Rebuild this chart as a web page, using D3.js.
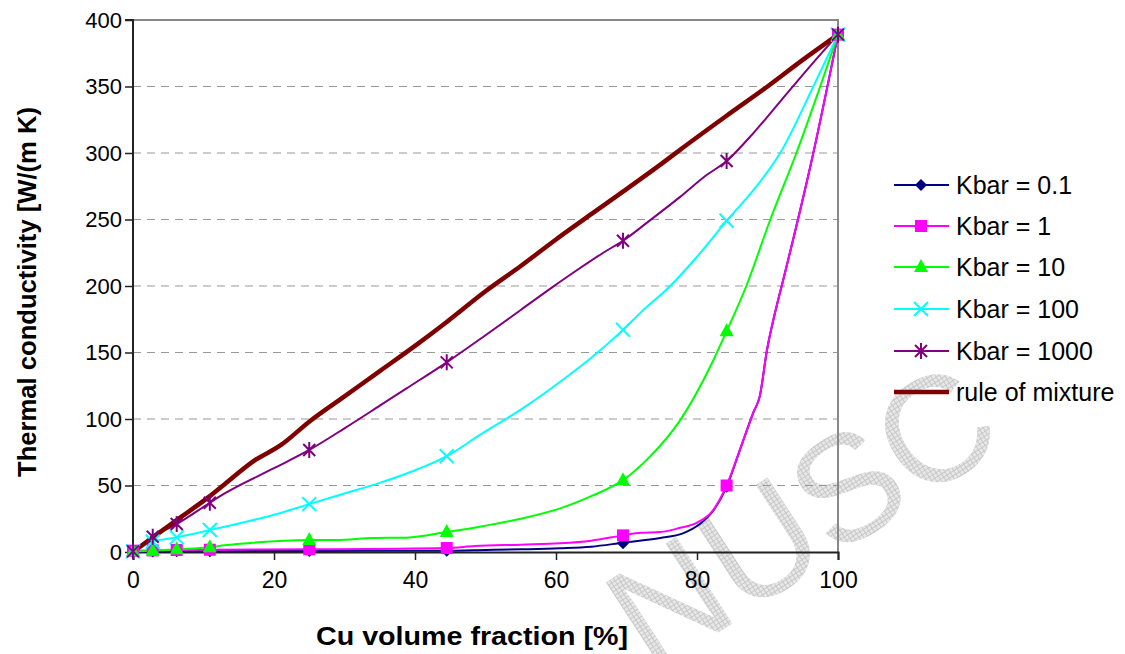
<!DOCTYPE html>
<html><head><meta charset="utf-8">
<script src="https://cdn.jsdelivr.net/npm/d3@7"></script>
<style>body{margin:0;background:#fff}svg{display:block;font-family:Arial,"Liberation Sans",sans-serif}</style>
</head><body><svg id="c" width="1125" height="654"></svg>
<script>
// ---- data ----
const xTicks = [0, 20, 40, 60, 80, 100];
const yTicks = [0, 50, 100, 150, 200, 250, 300, 350, 400];
const seriesNames = ["Kbar = 0.1", "Kbar = 1", "Kbar = 10", "Kbar = 100", "Kbar = 1000", "rule of mixture"];
const markerX = [0, 2.8, 6.2, 10.9, 25, 44.5, 69.5, 84.2, 100];
const mk01   = [0, 0.3, 0.5, 0.6, 0.8, 1, 6.5, 49, 389];
const mk1    = [1, 1.2, 1.5, 1.7, 2, 3, 12.5, 50, 389];
const mk10   = [0.5, 1, 2, 3.5, 9, 15, 54, 166, 389];
const mk100  = [0.5, 7.8, 11, 16.5, 36, 72, 167, 249, 389];
const mk1000 = [0.5, 11.5, 21, 37, 76.7, 142.6, 234, 294, 389];
// curves (x, y)
const line01 = [[0,0],[2.8,0.3],[6.2,0.5],[10.9,0.6],[25,0.8],[44.5,1],[50,1.5],[55,2],[60.6,2.8],[65,4],[69.5,7],[74.8,10.5],[78,14],[80.4,21],[82.3,31],[84.2,49],[86.1,77],[88,105],[88.9,117],[89.9,151],[91.3,185],[92.2,204],[96.5,300],[100,389]];
const line1 = [[0,1],[2.8,1.2],[6.2,1.5],[10.9,1.7],[25,2],[44.5,3],[48.5,4.5],[55,5.5],[60.6,6.5],[65,8.5],[69.5,12.5],[72,14.5],[74.8,15],[77.5,18],[80,22],[82.3,31.5],[84.2,50],[86.1,77],[88,105],[88.9,117],[89.9,151],[91.3,185],[92.2,204],[96.5,300],[100,389]];
const line10 = [[0,0.5],[2.8,1],[6.2,2],[10.9,3.5],[13,5],[17,7],[25,9],[28.9,9],[34,10.5],[38.8,10.8],[44.5,15],[49.2,19],[55,25],[60.6,32.8],[65,42],[69.5,54],[73,70],[77.6,99],[82.3,144],[84.2,166],[87,200],[90.4,250],[94.1,300],[100,389]];
const line100 = [[0,0.5],[2.8,7.8],[6.2,11],[10.9,16.5],[13,19],[20,28],[25,36],[30,44],[35,52],[38.8,59],[44.5,72],[49.2,88],[55,107],[60.6,128],[65,146],[69.5,167],[72,180],[76.2,200],[80,222],[84.2,249],[88,272],[91.8,300],[96.5,350],[100,389]];
const line1000 = [[0,0.5],[2.8,11.5],[6.2,21],[10.9,37],[13,44],[20,63],[25,76.7],[30,93],[35,110],[38.8,123],[44.5,142.6],[50,163],[55,182],[59.6,199.5],[63,212],[66.7,225],[69.5,234],[73,248],[77.6,267],[81,282],[84.2,294],[88,315],[92,340],[96,365],[100,389]];
const lineRule = [[0,0],[2.8,11],[6.2,24],[10.9,42],[13,51],[17,68],[21,80.5],[25,98],[30,117],[35,136],[40,155],[44.5,173],[50,196],[55,215],[60,235],[65,254],[69.5,271],[75,292],[77.5,302],[84.2,328],[90,350],[95,370],[100,389]];

const colors = ["#000080", "#FF00FF", "#00FF00", "#00FFFF", "#800080", "#800000"];
const shapes = ["diamond", "square", "triangle", "x", "star", null];
const lines = [line01, line1, line10, line100, line1000, lineRule];
const marks = [mk01, mk1, mk10, mk100, mk1000, null];

// ---- layout ----
const svg = d3.select("#c");
const x = d3.scaleLinear().domain([0, 100]).range([133, 838]);
const y = d3.scaleLinear().domain([0, 400]).range([552, 20]);

// watermark
const defs = svg.append("defs");
const pat = defs.append("pattern").attr("id","hatch").attr("patternUnits","userSpaceOnUse").attr("width",4).attr("height",4);
pat.append("rect").attr("width",4).attr("height",4).attr("fill","#e8e8e8");
pat.append("path").attr("d","M0,0.5H4M0.5,0V4").attr("stroke","#c8c8c8").attr("stroke-width",1);
svg.append("text").attr("transform","translate(830,560) rotate(-33)")
  .attr("text-anchor","middle").attr("font-size",150).attr("fill","url(#hatch)")
  .text("NUSC");

// gridlines
svg.append("g").selectAll("line").data(yTicks.filter(d => d > 0 && d < 400)).join("line")
  .attr("x1", x(0)).attr("x2", x(100)).attr("y1", d => y(d)).attr("y2", d => y(d))
  .attr("stroke", "#999").attr("stroke-width", 1).attr("stroke-dasharray", "8,6");

// border top/right
svg.append("path").attr("d", `M${x(0)},${y(400)}H${x(100)}V${y(0)}`).attr("fill","none").attr("stroke","#888").attr("stroke-width",2);

// axes
const xAxis = d3.axisBottom(x).tickValues(xTicks).tickSize(8).tickPadding(12);
const yAxis = d3.axisLeft(y).tickValues(yTicks).tickSize(8).tickPadding(3);
const gx = svg.append("g").attr("transform", `translate(0,${y(0)})`).call(xAxis);
const gy = svg.append("g").attr("transform", `translate(${x(0)},0)`).call(yAxis);
[gx, gy].forEach(g => {
  g.select(".domain").attr("stroke", "#222").attr("stroke-width", 2);
  g.selectAll(".tick line").attr("stroke", "#222").attr("stroke-width", 1.5);
  g.selectAll("text").attr("font-size", 22).attr("fill", "#000").attr("font-family", "Arial, 'Liberation Sans', sans-serif");
});
gx.selectAll("text").attr("font-size", 23);
gy.select(".domain").attr("d", `M-8,${y(400)}H0V${y(0)}`);

// lines
const lineGen = d3.line().x(d => x(d[0])).y(d => y(d[1])).curve(d3.curveMonotoneX);
const plot = svg.append("g");
lines.forEach((ln, i) => {
  plot.append("path").datum(ln).attr("d", lineGen).attr("fill", "none")
    .attr("stroke", colors[i]).attr("stroke-width", i === 5 ? 4.5 : 2).attr("stroke-linejoin","round");
});

function drawMarker(g, shape, cx, cy, color, s) {
  s = s || 1;
  if (shape === "diamond") {
    g.append("path").attr("d", `M${cx},${cy-6*s}L${cx+6*s},${cy}L${cx},${cy+6*s}L${cx-6*s},${cy}Z`).attr("fill", color);
  } else if (shape === "square") {
    g.append("rect").attr("x", cx-6*s).attr("y", cy-6*s).attr("width", 12*s).attr("height", 12*s).attr("fill", color);
  } else if (shape === "triangle") {
    g.append("path").attr("d", `M${cx},${cy-8*s}L${cx+7*s},${cy+5*s}L${cx-7*s},${cy+5*s}Z`).attr("fill", color);
  } else if (shape === "x") {
    g.append("path").attr("d", `M${cx-7*s},${cy-7*s}L${cx+7*s},${cy+7*s}M${cx+7*s},${cy-7*s}L${cx-7*s},${cy+7*s}`).attr("stroke", color).attr("stroke-width", 2);
  } else if (shape === "star") {
    g.append("path").attr("d", `M${cx-6*s},${cy-6*s}L${cx+6*s},${cy+6*s}M${cx+6*s},${cy-6*s}L${cx-6*s},${cy+6*s}M${cx},${cy-8*s}L${cx},${cy+8*s}`).attr("stroke", color).attr("stroke-width", 2);
  }
}

// markers (drawn with their series order)
marks.forEach((mv, i) => {
  if (!mv) return;
  const g = plot.append("g");
  mv.forEach((v, j) => drawMarker(g, shapes[i], x(markerX[j]), y(v), colors[i]));
});

// legend
const legY = [185, 226, 267, 309, 351, 392];
const leg = svg.append("g");
seriesNames.forEach((nm, i) => {
  leg.append("line").attr("x1", 894).attr("x2", 949).attr("y1", legY[i]).attr("y2", legY[i])
    .attr("stroke", colors[i]).attr("stroke-width", i === 5 ? 4.5 : 2);
  if (shapes[i]) drawMarker(leg, shapes[i], 921, legY[i], colors[i]);
  leg.append("text").attr("x", 956).attr("y", legY[i]).attr("dy", "0.35em")
    .attr("font-size", 25).text(nm);
});

// axis titles
svg.append("text").attr("x", 472).attr("y", 645).attr("text-anchor", "middle")
  .attr("font-size", 25).attr("font-weight", "bold")
  .attr("textLength", 312).attr("lengthAdjust", "spacingAndGlyphs").text("Cu volume fraction [%]");
svg.append("text").attr("transform", "translate(36,292) rotate(-90)").attr("text-anchor", "middle")
  .attr("font-size", 25).attr("font-weight", "bold")
  .attr("textLength", 370).attr("lengthAdjust", "spacingAndGlyphs").text("Thermal conductivity [W/(m K)");
</script></body></html>
